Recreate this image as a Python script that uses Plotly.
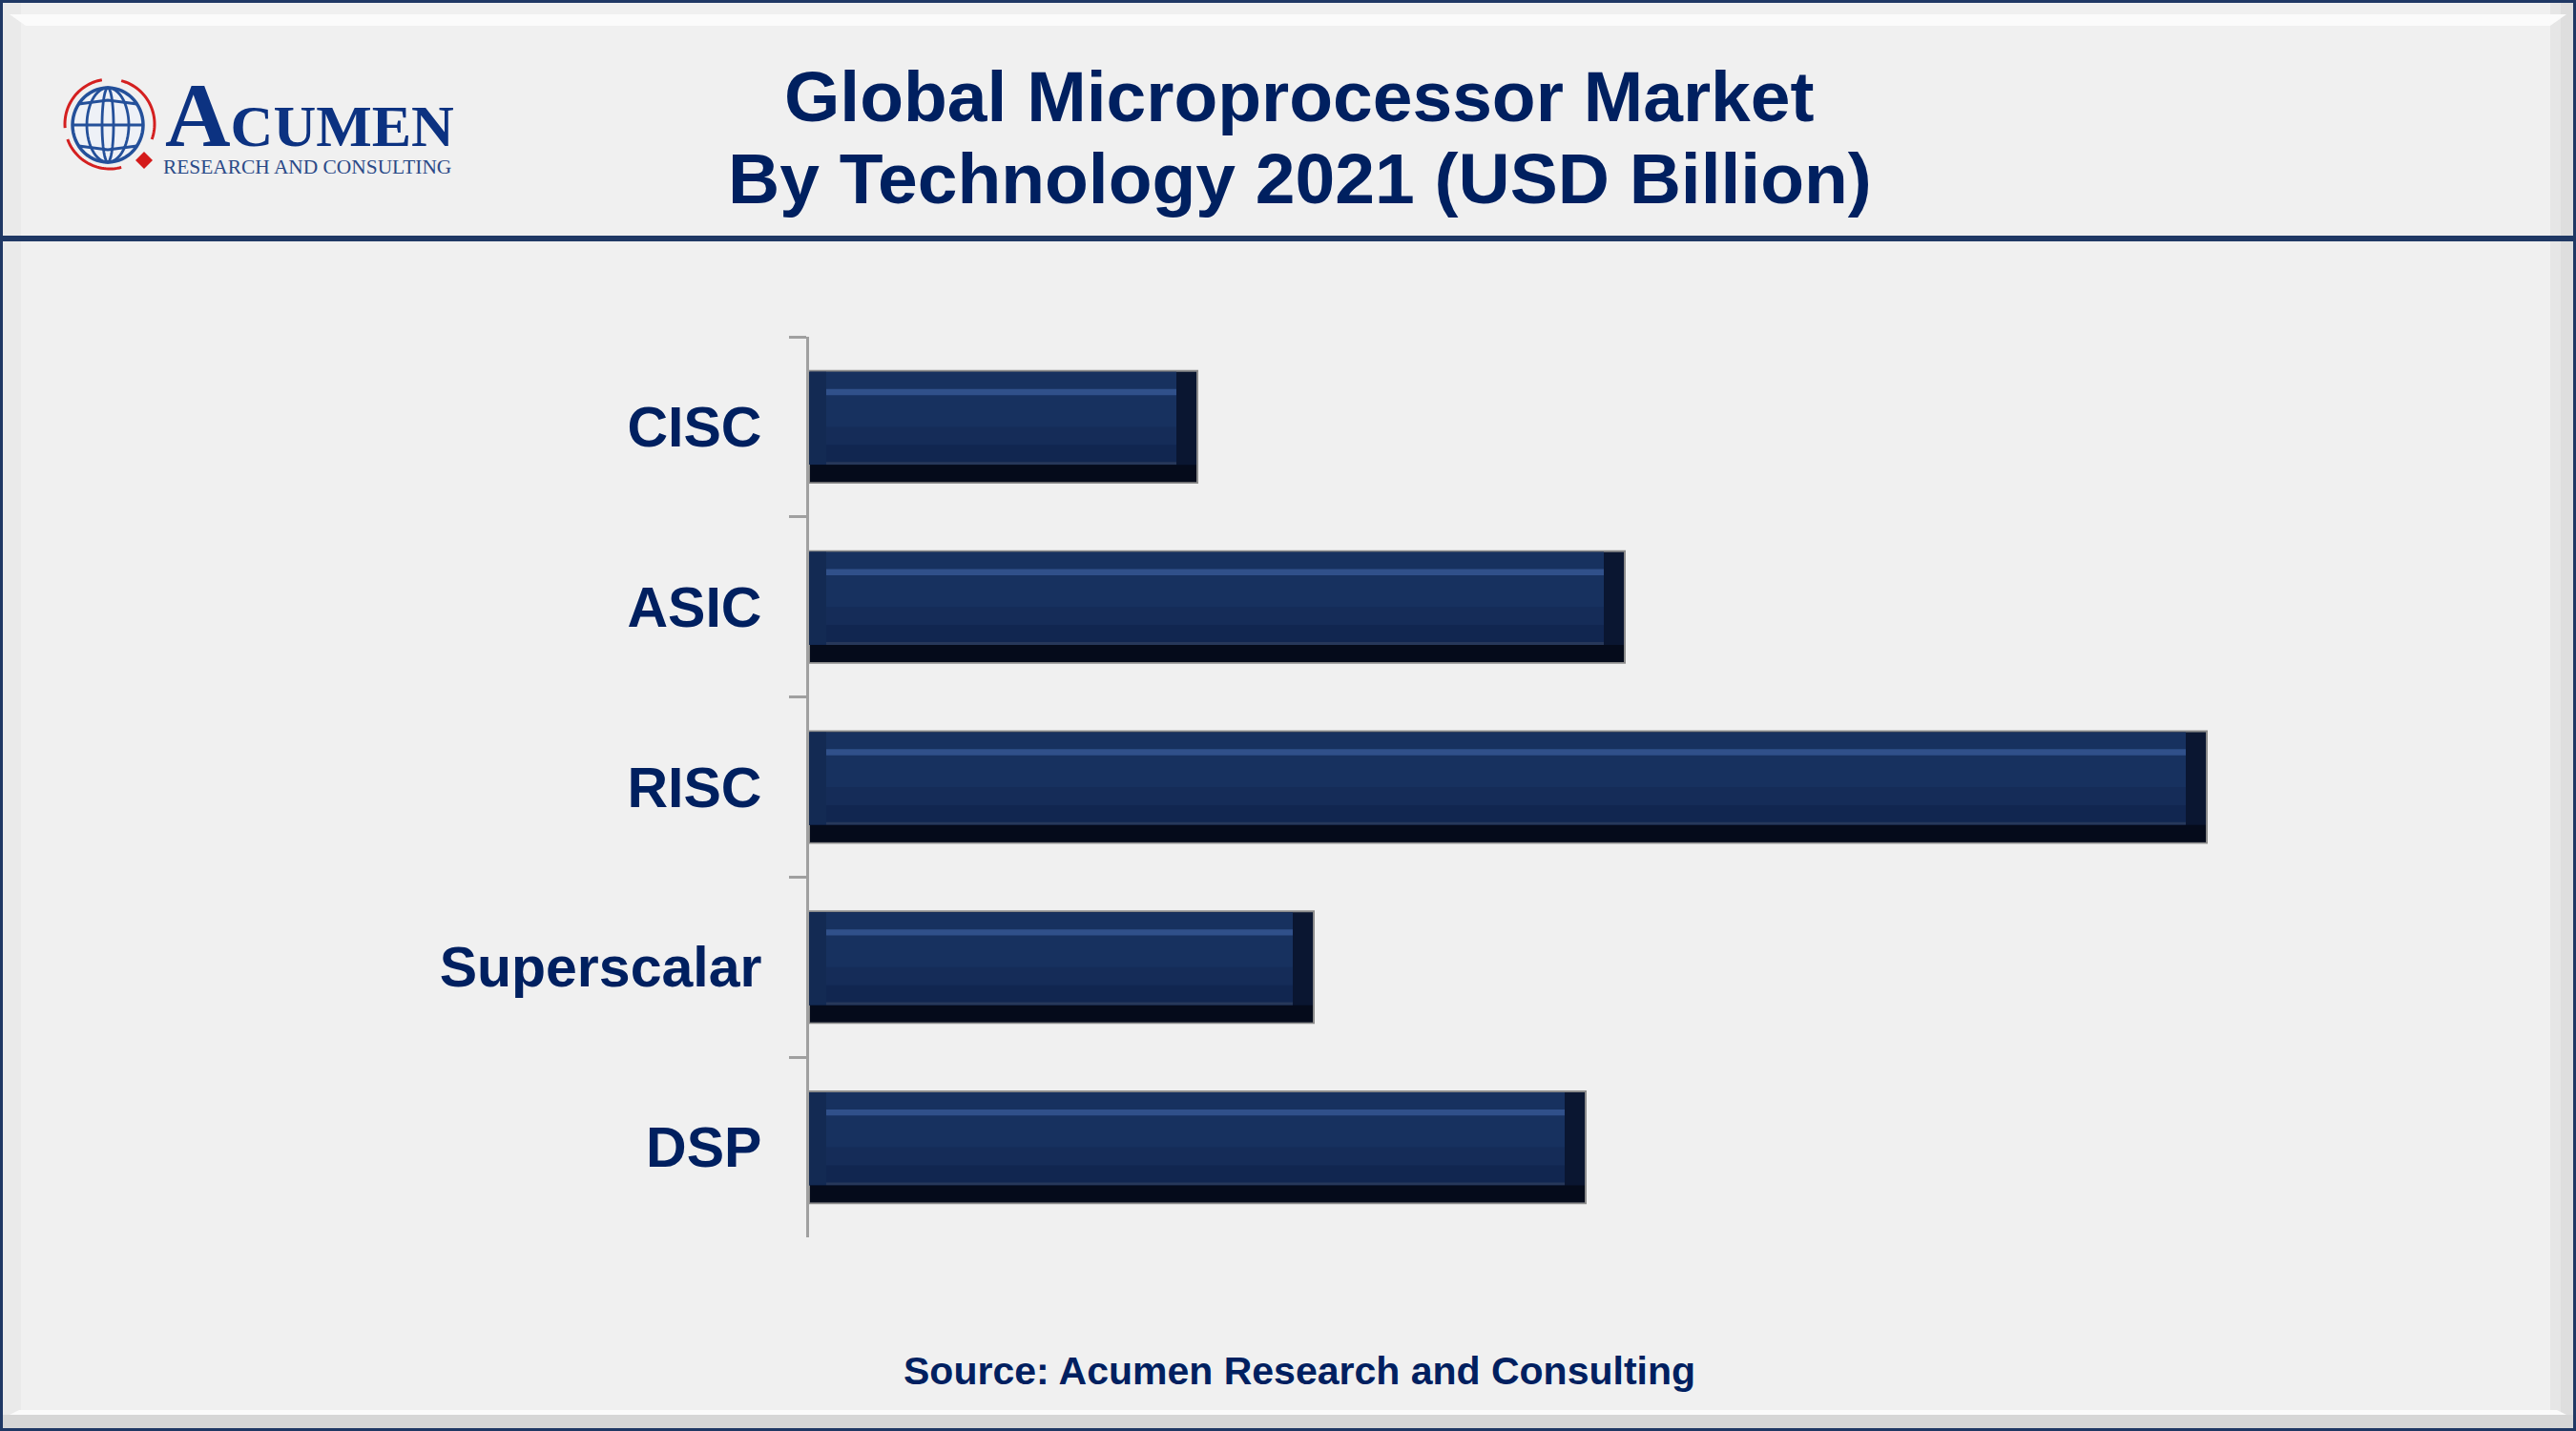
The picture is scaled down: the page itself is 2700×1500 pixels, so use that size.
import math
import plotly.graph_objects as go

# ---- data (USD Billion) ----
categories = ["CISC", "ASIC", "RISC", "Superscalar", "DSP"]
values = [8.14, 17.10, 29.30, 10.58, 16.28]

title_line1 = "Global Microprocessor Market"
title_line2 = "By Technology 2021 (USD Billion)"
source_text = "Source: Acumen Research and Consulting"

# ---- layout geometry (pixels) ----
FW, FH = 2700, 1500
L, R, T, B = 848, 2500, 353, 1297
W, H = R - L, B - T
XMAX = 33.04
NAVY = "#1f3864"
TXT = "#002060"


def px(x):
    return (x - L) / W


def py(y):
    return (B - y) / H


u = XMAX / W           # data units per pixel
r_in = 22 * u          # right bevel
l_in = 18 * u          # left bevel

fig = go.Figure()

common = dict(y=categories, orientation="h", hoverinfo="skip", showlegend=False)

# base bar (right bevel colour, grey outline)
fig.add_trace(go.Bar(x=values, base=0, offset=-0.31, width=0.62,
                     marker=dict(color="#0a1631", line=dict(color="#8c8c8c", width=2)),
                     **common))
# main body
fig.add_trace(go.Bar(x=[v - r_in for v in values], base=0, offset=-0.305, width=0.515,
                     marker=dict(color="#17315f", line=dict(width=0)), **common))
# lower gradient steps
fig.add_trace(go.Bar(x=[v - r_in for v in values], base=0, offset=0.0, width=0.21,
                     marker=dict(color="#152c58", line=dict(width=0)), **common))
fig.add_trace(go.Bar(x=[v - r_in for v in values], base=0, offset=0.10, width=0.11,
                     marker=dict(color="#112650", line=dict(width=0)), **common))
# left bevel
fig.add_trace(go.Bar(x=[l_in for v in values], base=0, offset=-0.305, width=0.515,
                     marker=dict(color="#132a53", line=dict(width=0)), **common))
# top highlight line
fig.add_trace(go.Bar(x=[v - r_in - l_in for v in values], base=l_in, offset=-0.21, width=0.034,
                     marker=dict(color="#30508a", line=dict(width=0)), **common))
# thin line above dark band
fig.add_trace(go.Bar(x=[v - r_in - l_in for v in values], base=l_in, offset=0.195, width=0.016,
                     marker=dict(color="#27385a", line=dict(width=0)), **common))
# bottom dark band
fig.add_trace(go.Bar(x=[v - 2 * u for v in values], base=u, offset=0.211, width=0.095,
                     marker=dict(color="#050b1b", line=dict(width=0)), **common))

shapes = []


def rect(x0, y0, x1, y1, fill, line_w=0, line_c=None, layer="below"):
    shapes.append(dict(type="rect", xref="paper", yref="paper",
                       x0=px(x0), x1=px(x1), y0=py(y0), y1=py(y1),
                       fillcolor=fill, layer=layer,
                       line=dict(width=line_w, color=line_c or fill)))


def poly(points, fill=None, line_c=None, line_w=0, closed=True, layer="above"):
    p = "M " + " L ".join(f"{px(x):.6f},{py(y):.6f}" for x, y in points)
    if closed:
        p += " Z"
    d = dict(type="path", xref="paper", yref="paper", path=p, layer=layer,
             line=dict(width=line_w, color=line_c or "rgba(0,0,0,0)"))
    if fill:
        d["fillcolor"] = fill
    shapes.append(d)


# ---- bevel frame ----
rect(3, 3, 22, 1497, "#eaeaea")
rect(2673, 3, 2697, 1497, "#dedede")
rect(2673, 3, 2684, 1497, "#e6e6e6")
poly([(10, 15), (2690, 15), (2673, 27), (27, 27)], fill="#fbfbfb", layer="below")
rect(3, 1483, 2697, 1497, "#d6d6d6")
poly([(20, 1478), (2680, 1478), (2690, 1483), (10, 1483)], fill="#fafafa", layer="below")
rect(0, 247, FW, 253, NAVY, layer="above")
shapes.append(dict(type="rect", xref="paper", yref="paper",
                   x0=px(1.5), x1=px(FW - 1.5), y0=py(1.5), y1=py(FH - 1.5),
                   line=dict(color=NAVY, width=3), layer="above"))

# ---- logo: globe ----
cx, cy, grx, gry = 113, 131, 37, 39


def ellipse_pts(cx, cy, rx, ry, a0=0, a1=360, n=60):
    return [(cx + rx * math.cos(math.radians(a0 + (a1 - a0) * i / n)),
             cy - ry * math.sin(math.radians(a0 + (a1 - a0) * i / n))) for i in range(n + 1)]


poly(ellipse_pts(cx, cy, grx, gry), fill="#eef1f7", line_c="#24509a", line_w=3.5)
for rx in (22, 6):
    poly(ellipse_pts(cx, cy, rx, gry), line_c="#24509a", line_w=2.8, closed=False)
for dy in (-22, 0, 22):
    half = grx * math.sqrt(max(0.0, 1 - (dy / gry) ** 2))
    poly([(cx - half, cy + dy), (cx, cy + dy + (4 if dy else 0) * (1 if dy > 0 else -1)), (cx + half, cy + dy)],
         line_c="#24509a", line_w=2.8, closed=False)
# red arcs
for a0, a1 in ((100, 185), (-20, 75), (200, 285)):
    poly(ellipse_pts(cx + 2, cy - 1, 47, 47, a0, a1, 30), line_c="#d42020", line_w=3, closed=False)
# red diamond
dx, dyy, s = 151, 168, 9
poly([(dx, dyy - s), (dx + s, dyy), (dx, dyy + s), (dx - s, dyy)], fill="#d41a1a")

annotations = []


def text(x, y, t, size, color, xanchor="center", yanchor="middle", family="Liberation Sans",
         weight="bold"):
    annotations.append(dict(xref="paper", yref="paper", x=px(x), y=py(y), text=t,
                            showarrow=False, xanchor=xanchor, yanchor=yanchor,
                            font=dict(family=family, size=size, color=color, weight=weight)))


# logo text (big A + CUMEN share a baseline)
text(171, 121, "<span style='font-size:95px'>A</span>CUMEN", 62, "#0c3281",
     xanchor="left", family="Liberation Serif")
text(169, 175, "RESEARCH AND CONSULTING", 21.4, "#2b4a88", xanchor="left",
     family="Liberation Serif", weight="normal")

# titles
text(1362, 101, title_line1, 75, TXT)
text(1362, 187, title_line2, 75, TXT)
# source
text(1362, 1437, source_text, 41, TXT)

fig.update_layout(
    width=FW, height=FH,
    margin=dict(l=L, r=FW - R, t=T, b=FH - B, pad=0),
    paper_bgcolor="#f0f0f0", plot_bgcolor="#f0f0f0",
    barmode="overlay",
    shapes=shapes, annotations=annotations,
    xaxis=dict(range=[0, XMAX], visible=False, fixedrange=True),
    yaxis=dict(type="category", categoryorder="array", categoryarray=categories,
               range=[len(categories) - 0.5, -0.5],
               showline=True, linecolor="#a0a0a0", linewidth=2.5,
               ticks="outside", tickson="boundaries", ticklen=18,
               tickcolor="#a0a0a0", tickwidth=2.5,
               ticklabelstandoff=35, showgrid=False, zeroline=False,
               tickfont=dict(family="Liberation Sans", size=59, color=TXT, weight="bold")),
)

fig.write_html("out.html")
